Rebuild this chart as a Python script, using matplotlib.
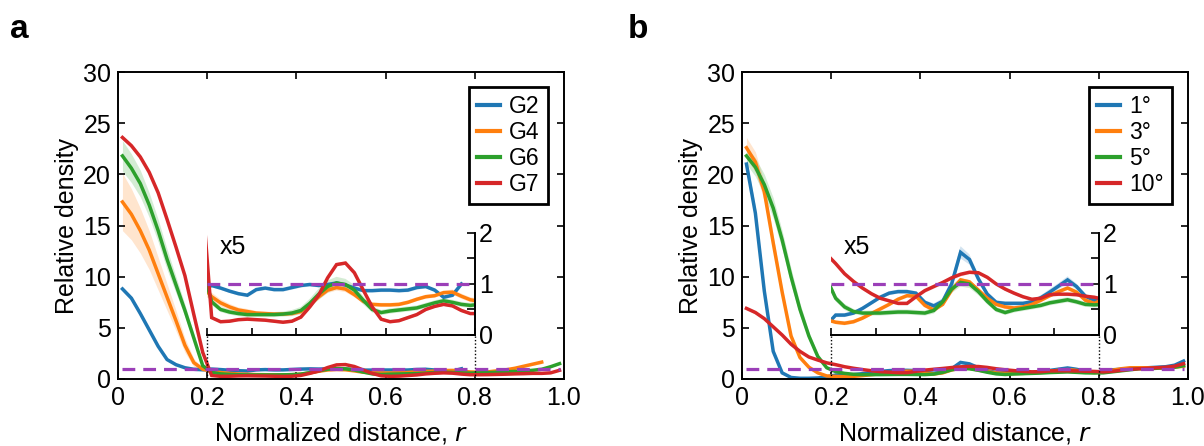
import numpy as np
import matplotlib
matplotlib.use("Agg")
import matplotlib.pyplot as plt
from matplotlib.lines import Line2D

plt.rcParams['font.family'] = ['Liberation Sans', 'DejaVu Sans']

# ---------------- data ----------------
# bin centres of normalized distance r
r_bins = np.round(np.arange(0.01, 1.0, 0.02), 2)

# panel a : relative density per group
a_labels = ["G2", "G4", "G6", "G7"]
a_G2 = [8.8, 7.9, 6.4, 4.8, 3.2, 1.9, 1.4, 1.1, 0.95, 0.9,
        0.97, 0.92, 0.86, 0.81, 0.78, 0.89, 0.92, 0.89, 0.89, 0.93,
        0.97, 0.99, 0.97, 0.99, 1.02, 0.98, 0.92, 0.87, 0.87, 0.88,
        0.88, 0.87, 0.88, 0.93, 0.95, 0.88, 0.74, 0.78, 1.0]
a_G4 = [17.3, 16.1, 14.5, 12.6, 10.3, 8.0, 5.7, 3.3, 1.6, 0.95,
        0.75, 0.63, 0.55, 0.49, 0.46, 0.43, 0.42, 0.41, 0.41, 0.42,
        0.46, 0.6, 0.75, 0.88, 0.93, 0.9, 0.79, 0.66, 0.6, 0.59,
        0.59, 0.6, 0.64, 0.7, 0.75, 0.77, 0.83, 0.84, 0.76, 0.69,
        0.66, 0.7, 0.8, 0.9, 1.05, 1.25, 1.45, 1.65]
a_G6 = [21.8, 20.6, 19.1, 17.0, 14.5, 11.7, 9.2, 6.7, 4.0, 1.3,
        0.65, 0.5, 0.45, 0.42, 0.4, 0.4, 0.4, 0.4, 0.41, 0.43,
        0.48, 0.62, 0.8, 0.95, 1.02, 0.99, 0.88, 0.68, 0.5, 0.44,
        0.47, 0.49, 0.51, 0.53, 0.58, 0.63, 0.67, 0.64, 0.6, 0.58,
        0.6, 0.62, 0.66, 0.7, 0.74, 0.78, 0.85, 0.95, 1.2, 1.5]
a_G7 = [23.6, 22.8, 21.7, 20.2, 18.2, 15.6, 12.9, 10.1, 6.3, 2.6,
        0.34, 0.26, 0.27, 0.3, 0.31, 0.3, 0.29, 0.27, 0.25, 0.27,
        0.35, 0.55, 0.78, 1.12, 1.38, 1.41, 1.22, 0.88, 0.55, 0.31,
        0.26, 0.28, 0.34, 0.4, 0.5, 0.56, 0.6, 0.57, 0.48, 0.42,
        0.42, 0.43, 0.45, 0.47, 0.5, 0.52, 0.55, 0.55, 0.6, 0.85]
# s.e.m. half-widths for shaded bands
a_G2_sem = [0.2, 0.2, 0.2, 0.15, 0.1, 0.08, 0.05, 0.04] + [0.03] * 31
a_G4_sem = [2.8, 2.5, 2.2, 1.9, 1.6, 1.3, 1.0, 0.7, 0.4, 0.15,
            0.08, 0.07, 0.06, 0.05, 0.05, 0.04, 0.04, 0.04, 0.04, 0.04,
            0.05, 0.06, 0.06, 0.06, 0.06, 0.06, 0.05, 0.05, 0.04, 0.04,
            0.04, 0.04, 0.04, 0.04, 0.04, 0.04, 0.04, 0.05, 0.05, 0.05,
            0.05, 0.05, 0.06, 0.07, 0.08, 0.1, 0.12, 0.15]
a_G6_sem = [1.5, 1.4, 1.3, 1.2, 1.1, 1.0, 0.8, 0.6, 0.4, 0.2,
            0.06, 0.05, 0.05, 0.05, 0.05, 0.05, 0.05, 0.05, 0.05, 0.06,
            0.07, 0.09, 0.11, 0.12, 0.12, 0.11, 0.1, 0.08, 0.06, 0.05,
            0.05, 0.05, 0.05, 0.05, 0.05, 0.05, 0.05, 0.05, 0.05, 0.05,
            0.05, 0.05, 0.05, 0.05, 0.05, 0.05, 0.05, 0.05, 0.06, 0.08]
a_G7_sem = [0.2, 0.2, 0.2, 0.15, 0.1, 0.08, 0.06, 0.05] + [0.03] * 42

# panel b : relative density per eccentricity
b_labels = ["1°", "3°", "5°", "10°"]
b_1 = [21.0, 16.2, 8.6, 2.7, 0.6, 0.15, 0.07, 0.07, 0.1, 0.2,
       0.39, 0.39, 0.43, 0.52, 0.63, 0.74, 0.82, 0.85, 0.85, 0.82,
       0.64, 0.57, 0.66, 1.0, 1.62, 1.48, 1.1, 0.8, 0.64, 0.62,
       0.62, 0.62, 0.65, 0.73, 0.84, 0.96, 1.08, 0.95, 0.76, 0.68,
       0.75, 0.9, 0.95, 1.0, 1.05, 1.1, 1.15, 1.2, 1.35, 1.75]
b_3 = [22.6, 21.2, 18.3, 13.3, 8.5, 4.2, 2.1, 1.15, 0.6, 0.3,
       0.25, 0.23, 0.26, 0.33, 0.42, 0.51, 0.6, 0.7, 0.77, 0.76,
       0.58, 0.49, 0.6, 0.88, 1.08, 1.04, 0.88, 0.72, 0.6, 0.55,
       0.53, 0.55, 0.6, 0.68, 0.77, 0.85, 0.92, 0.84, 0.68, 0.62,
       0.7, 0.85, 1.0, 1.1, 1.1, 1.1, 1.1, 1.1, 1.15, 1.25]
b_5 = [21.8, 20.7, 19.0, 16.7, 13.6, 10.0, 6.8, 4.2, 2.2, 1.1,
       0.72, 0.55, 0.46, 0.43, 0.43, 0.43, 0.44, 0.45, 0.45, 0.44,
       0.43, 0.48, 0.65, 0.9, 1.03, 1.0, 0.85, 0.66, 0.5, 0.44,
       0.49, 0.52, 0.55, 0.58, 0.63, 0.66, 0.69, 0.65, 0.6, 0.59,
       0.6, 0.7, 0.8, 0.9, 1.0, 1.0, 1.05, 1.1, 1.15, 1.3]
b_10 = [6.9, 6.5, 5.9, 5.1, 4.3, 3.4, 2.7, 2.15, 1.85, 1.58,
        1.4, 1.2, 1.05, 0.92, 0.81, 0.72, 0.67, 0.62, 0.62, 0.75,
        0.87, 0.95, 1.03, 1.12, 1.19, 1.23, 1.22, 1.13, 1.0, 0.9,
        0.82, 0.75, 0.7, 0.72, 0.79, 0.8, 0.8, 0.79, 0.76, 0.74,
        0.7, 0.75, 0.85, 0.95, 1.0, 1.05, 1.1, 1.15, 1.25, 1.5]
b_1_sem = [0.6, 0.6, 0.5, 0.3, 0.1, 0.05, 0.03, 0.03, 0.03, 0.03,
           0.04, 0.04, 0.04, 0.04, 0.04, 0.04, 0.04, 0.04, 0.04, 0.04,
           0.04, 0.05, 0.06, 0.1, 0.12, 0.1, 0.07, 0.05, 0.04, 0.04,
           0.04, 0.04, 0.04, 0.05, 0.06, 0.06, 0.07, 0.06, 0.05, 0.05,
           0.05, 0.05, 0.05, 0.05, 0.05, 0.05, 0.06, 0.07, 0.08, 0.1]
b_3_sem = [1.0, 1.0, 0.9, 0.7, 0.5, 0.3, 0.15, 0.08, 0.05, 0.04] + [0.04] * 40
b_5_sem = [0.8, 0.9, 1.0, 1.0, 0.9, 0.8, 0.6, 0.4, 0.25, 0.12,
           0.06, 0.06, 0.05, 0.05, 0.05, 0.05, 0.05, 0.05, 0.05, 0.05,
           0.05, 0.06, 0.07, 0.08, 0.08, 0.08, 0.07, 0.06, 0.05, 0.05,
           0.05, 0.05, 0.05, 0.05, 0.05, 0.05, 0.05, 0.05, 0.05, 0.05,
           0.05, 0.05, 0.05, 0.05, 0.05, 0.05, 0.05, 0.05, 0.06, 0.08]
b_10_sem = [0.15, 0.15, 0.12, 0.1, 0.08, 0.06, 0.05] + [0.03] * 43

chance_level = 1.0
colors = ["#1f77b4", "#ff7f0e", "#2ca02c", "#d62728"]
purple = "#9b3fb8"

# ---------------- figure ----------------
W, H = 1204, 446
fig = plt.figure(figsize=(W / 100, H / 100), dpi=100)

FS = 18


def style_main(ax):
    ax.set_xlim(0, 1.0)
    ax.set_ylim(0, 30)
    ax.set_xticks([0, 0.2, 0.4, 0.6, 0.8, 1.0])
    ax.set_xticklabels(["0", "0.2", "0.4", "0.6", "0.8", "1.0"])
    ax.set_yticks([0, 5, 10, 15, 20, 25, 30])
    ax.tick_params(direction="in", top=True, right=True, length=5, width=1.2,
                   labelsize=FS, pad=5)
    for s in ax.spines.values():
        s.set_linewidth(1.4)
    ax.set_ylabel("Relative density", fontsize=FS, labelpad=3)
    ax.set_xlabel("Normalized distance, $\\mathit{r}$", fontsize=FS, labelpad=7)


def draw_series(ax, series, sems):
    for vals, sem, c in zip(series, sems, colors):
        v = np.asarray(vals)
        e = np.asarray(sem)
        x = r_bins[:len(v)]
        ax.fill_between(x, v - e, v + e, color=c, alpha=0.2, lw=0)
        ax.plot(x, v, color=c, lw=2.5, solid_joinstyle="miter")


def make_panel(left, series, sems, labels, letter, letter_x):
    ax = fig.add_axes([left / W, 1 - 379 / H, 446 / W, (379 - 72) / H])
    style_main(ax)
    draw_series(ax, series, sems)
    ax.plot([0.01, 0.99], [chance_level, chance_level], color=purple, lw=2.3,
            dashes=(4, 2.5), zorder=5)
    # inset (x5 magnification)
    y0, y1 = (379 - 335) / 10.23, (379 - 233) / 10.23
    ins = ax.inset_axes([0.2, y0, 0.6, y1 - y0], transform=ax.transData)
    ins.patch.set_alpha(0)
    ins.set_zorder(6)
    ins.set_xlim(0.2, 0.8)
    ins.set_ylim(0, 2)
    draw_series(ins, series, sems)
    ins.plot([0.2, 0.8], [chance_level, chance_level], color=purple, lw=2.3,
             dashes=(4, 2.5), zorder=5)
    ins.spines["top"].set_visible(False)
    ins.spines["left"].set_visible(False)
    ins.spines["bottom"].set_linewidth(1.4)
    ins.spines["right"].set_linewidth(1.4)
    ins.yaxis.tick_right()
    ins.set_yticks([0, 1, 2])
    ins.set_yticks([0.5, 1.5], minor=True)
    ins.set_xticks([0.2, 0.3, 0.4, 0.5, 0.6, 0.7, 0.8])
    ins.set_xticklabels([])
    ins.tick_params(axis="x", direction="in", length=5, width=1.2)
    ins.tick_params(axis="y", which="major", direction="in", length=6, width=1.2,
                    labelsize=FS, pad=3)
    ins.tick_params(axis="y", which="minor", direction="in", length=6, width=1.2)
    ins.text(0.045, 0.74, "x5", transform=ins.transAxes, fontsize=FS,
             ha="left", va="bottom")
    # dotted connectors
    for xv in (0.2, 0.8):
        ax.plot([xv, xv], [0, y0], color="black", lw=1.0, ls=(0, (1, 1.5)))
    # legend
    handles = [Line2D([], [], color=c, lw=3) for c in colors]
    leg = ax.legend(handles, labels, loc="upper right",
                    bbox_to_anchor=(0.964, 0.95), fontsize=16.5,
                    frameon=True, fancybox=False, framealpha=1,
                    edgecolor="black", handlelength=1.0, handletextpad=0.4,
                    labelspacing=0.12, borderpad=0.35, borderaxespad=0)
    leg.get_frame().set_linewidth(2.0)
    fig.text(letter_x / W, 1 - 30 / H, letter, fontsize=24, fontweight="bold",
             ha="left", va="center")
    return ax


make_panel(118, [a_G2, a_G4, a_G6, a_G7], [a_G2_sem, a_G4_sem, a_G6_sem, a_G7_sem],
           a_labels, "a", 10)
make_panel(742, [b_1, b_3, b_5, b_10], [b_1_sem, b_3_sem, b_5_sem, b_10_sem],
           b_labels, "b", 628)

fig.savefig("out.png", dpi=100)
